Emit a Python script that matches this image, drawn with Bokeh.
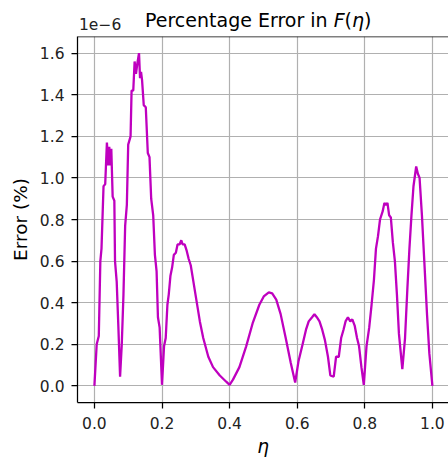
from bokeh.plotting import figure
from bokeh.models import Span, FixedTicker, NumeralTickFormatter, Div
from bokeh.layouts import column
from bokeh.embed import file_html
from bokeh.resources import INLINE

# eta values and percentage error (in units of 1e-6)
eta = [0, 0.0068, 0.013, 0.0176, 0.021, 0.027, 0.032, 0.037, 0.041, 0.044, 0.047, 0.05,
       0.054, 0.059, 0.061, 0.066, 0.071, 0.076, 0.081, 0.086, 0.091, 0.096, 0.1, 0.107,
       0.11, 0.115, 0.119, 0.123, 0.127, 0.132, 0.135, 0.138, 0.141, 0.146, 0.152, 0.158,
       0.163, 0.168, 0.174, 0.179, 0.184, 0.188, 0.193, 0.2, 0.206, 0.211, 0.216, 0.22,
       0.225, 0.23, 0.235, 0.241, 0.246, 0.252, 0.257, 0.261, 0.267, 0.273, 0.279, 0.285,
       0.293, 0.302, 0.312, 0.322, 0.337, 0.351, 0.371, 0.39, 0.4, 0.41, 0.429, 0.449,
       0.468, 0.488, 0.501, 0.516, 0.526, 0.538, 0.551, 0.566, 0.581, 0.594, 0.604, 0.616,
       0.626, 0.634, 0.644, 0.651, 0.658, 0.666, 0.674, 0.682, 0.691, 0.698, 0.708, 0.715,
       0.723, 0.73, 0.737, 0.743, 0.75, 0.757, 0.763, 0.77, 0.777, 0.783, 0.79, 0.797,
       0.805, 0.813, 0.82, 0.827, 0.833, 0.839, 0.845, 0.853, 0.858, 0.863, 0.867, 0.872,
       0.877, 0.883, 0.889, 0.895, 0.901, 0.911, 0.919, 0.926, 0.932, 0.938, 0.944, 0.952,
       0.957, 0.962, 0.969, 0.976, 0.984, 0.991, 1.0]
error_1e6 = [0.0, 0.2, 0.24, 0.6, 0.66, 0.96, 0.97, 1.17, 1.06, 1.15, 1.06, 1.14,
             0.91, 0.89, 0.6, 0.5, 0.28, 0.044, 0.2, 0.44, 0.77, 0.87, 1.16, 1.2,
             1.42, 1.42, 1.56, 1.5, 1.55, 1.6, 1.48, 1.51, 1.47, 1.35, 1.34, 1.12,
             1.1, 0.9, 0.82, 0.63, 0.55, 0.33, 0.28, 0.005, 0.19, 0.23, 0.39, 0.44,
             0.53, 0.57, 0.63, 0.64, 0.68, 0.68, 0.7, 0.68, 0.68, 0.65, 0.61, 0.58,
             0.5, 0.41, 0.31, 0.23, 0.14, 0.09, 0.05, 0.02, 0.005, 0.03, 0.09, 0.19,
             0.3, 0.39, 0.43, 0.45, 0.445, 0.415, 0.345, 0.23, 0.11, 0.016, 0.12, 0.2,
             0.27, 0.31, 0.33, 0.345, 0.33, 0.31, 0.27, 0.22, 0.14, 0.05, 0.044, 0.14,
             0.14, 0.23, 0.27, 0.31, 0.33, 0.31, 0.32, 0.29, 0.23, 0.19, 0.09, 0.005,
             0.19, 0.28, 0.39, 0.51, 0.66, 0.72, 0.8, 0.84, 0.88, 0.87, 0.88, 0.82,
             0.81, 0.69, 0.6, 0.44, 0.25, 0.08, 0.23, 0.47, 0.66, 0.82, 0.96, 1.055,
             1.02, 1.0, 0.82, 0.6, 0.345, 0.155, 0.0]

x_ticks = [0.0, 0.2, 0.4, 0.6, 0.8, 1.0]
y_ticks = [0.0, 0.2, 0.4, 0.6, 0.8, 1.0, 1.2, 1.4, 1.6]

title_main = "Percentage Error in "
title_func = "F"
title_arg = "η"
x_label = "η"
y_label = "Error (%)"
offset_text = "1e\u22126"

FONT = "DejaVu Sans"

header_html = (
    '<div style="position:relative;width:448px;height:34px;font-family:\'DejaVu Sans\';">'
    '<div style="position:absolute;left:145px;top:10.9px;'
    'font-size:19px;line-height:19px;color:black;white-space:nowrap;">'
    f'{title_main}<i>{title_func}</i>(<i>{title_arg}</i>)</div>'
    '<div style="position:absolute;left:79px;top:17.9px;font-size:15.5px;'
    f'line-height:15.5px;color:#222222;white-space:nowrap;">{offset_text}</div>'
    '</div>'
)
header = Div(text=header_html, width=448, height=34, margin=0)

p = figure(width=448, height=425, x_range=(-0.05, 1.0476), y_range=(-0.08, 1.68),
           output_backend="svg", toolbar_location=None, margin=0,
           min_border_left=77, min_border_right=0, min_border_top=2, min_border_bottom=53)
p.background_fill_color = "white"
p.border_fill_color = "white"
p.outline_line_color = None

p.line(eta, error_1e6, line_color="#bf00bf", line_width=2.3)

for ax, ticks in ((p.xaxis, x_ticks), (p.yaxis, y_ticks)):
    ax.ticker = FixedTicker(ticks=ticks, minor_ticks=[])
    ax.formatter = NumeralTickFormatter(format="0.0")
    ax.major_tick_in = 0
    ax.major_tick_out = 6
    ax.minor_tick_line_color = None
    ax.major_tick_line_width = 1.25
    ax.major_tick_line_color = "black"
    ax.axis_line_width = 1.25
    ax.axis_line_color = "black"
    ax.major_label_text_font = FONT
    ax.major_label_text_font_size = "15.5px"
    ax.major_label_text_color = "#222222"
    ax.axis_label_text_font = FONT
    ax.axis_label_text_font_size = "18.5px"
    ax.axis_label_text_color = "black"

p.xaxis.major_label_standoff = 8
p.yaxis.major_label_standoff = 7
p.xaxis.axis_label = x_label
p.xaxis.axis_label_text_font_style = "italic"
p.xaxis.axis_label_standoff = 4
p.yaxis.axis_label = y_label
p.yaxis.axis_label_text_font_style = "normal"
p.yaxis.axis_label_standoff = 6

p.grid.grid_line_color = "#b0b0b0"
p.grid.grid_line_width = 1.2

p.add_layout(Span(location=1.68, dimension="width", line_color="black", line_width=1.25))

layout = column(header, p, spacing=0)

open("out.html", "w").write(file_html(layout, INLINE))
